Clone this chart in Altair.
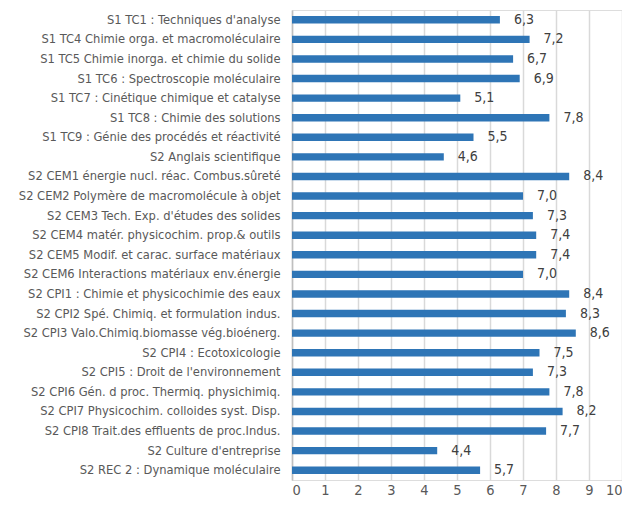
import altair as alt
import pandas as pd

categories = [
    "S1 TC1 : Techniques d'analyse",
    "S1 TC4 Chimie orga. et macromoléculaire",
    "S1 TC5 Chimie inorga. et chimie du solide",
    "S1 TC6 : Spectroscopie moléculaire",
    "S1 TC7 : Cinétique chimique et catalyse",
    "S1 TC8 : Chimie des solutions",
    "S1 TC9 : Génie des procédés et réactivité",
    "S2 Anglais scientifique",
    "S2 CEM1 énergie nucl. réac. Combus.sûreté",
    "S2 CEM2 Polymère de macromolécule à objet",
    "S2 CEM3 Tech. Exp. d'études des solides",
    "S2 CEM4 matér. physicochim. prop.& outils",
    "S2 CEM5 Modif. et carac. surface matériaux",
    "S2 CEM6 Interactions matériaux env.énergie",
    "S2 CPI1 : Chimie et physicochimie des eaux",
    "S2 CPI2 Spé. Chimiq. et formulation indus.",
    "S2 CPI3 Valo.Chimiq.biomasse vég.bioénerg.",
    "S2 CPI4 : Ecotoxicologie",
    "S2 CPI5 : Droit de l'environnement",
    "S2 CPI6 Gén. d proc. Thermiq. physichimiq.",
    "S2 CPI7 Physicochim. colloides syst. Disp.",
    "S2 CPI8 Trait.des effluents de proc.Indus.",
    "S2 Culture d'entreprise",
    "S2 REC 2 : Dynamique moléculaire",
]
values = [6.3, 7.2, 6.7, 6.9, 5.1, 7.8, 5.5, 4.6, 8.4, 7.0, 7.3, 7.4, 7.4, 7.0,
          8.4, 8.3, 8.6, 7.5, 7.3, 7.8, 8.2, 7.7, 4.4, 5.7]
x_ticks = list(range(0, 11))

df = pd.DataFrame({"cat": categories, "val": values})
df["lab"] = [f"{v:.1f}".replace(".", ",") for v in values]

FONT = "DejaVu Sans Condensed"

y = alt.Y("cat:N", sort=categories, title=None,
          scale=alt.Scale(paddingInner=0.62, paddingOuter=0.31),
          axis=alt.Axis(ticks=False, labelFontSize=12.8, labelColor="#595959",
                        labelFont=FONT, labelPadding=12, labelLimit=400,
                        domainColor="#BFBFBF", domainWidth=1.5, grid=False))
x = alt.X("val:Q", title=None,
          scale=alt.Scale(domain=[0, 10], nice=False),
          axis=alt.Axis(values=x_ticks, ticks=False, domain=False, labelOverlap=False,
                        labelFontSize=14.5, labelColor="#595959", labelFont=FONT,
                        labelPadding=3, gridColor="#D9D9D9", gridWidth=1.5))

bars = alt.Chart(df).mark_bar(color="#2E75B6").encode(x=x, y=y)
text = alt.Chart(df).mark_text(align="left", dx=14, fontSize=14, color="#404040",
                               font=FONT).encode(x=x, y=y, text="lab:N")

chart = (bars + text).properties(
    width=330, height=470,
    autosize=alt.AutoSizeParams(type="none"),
    padding={"left": 284, "top": 2, "right": 0, "bottom": 20},
).configure_view(stroke=None).configure(background="white")

chart.save("out.html", embed_options={"renderer": "svg", "actions": False})
